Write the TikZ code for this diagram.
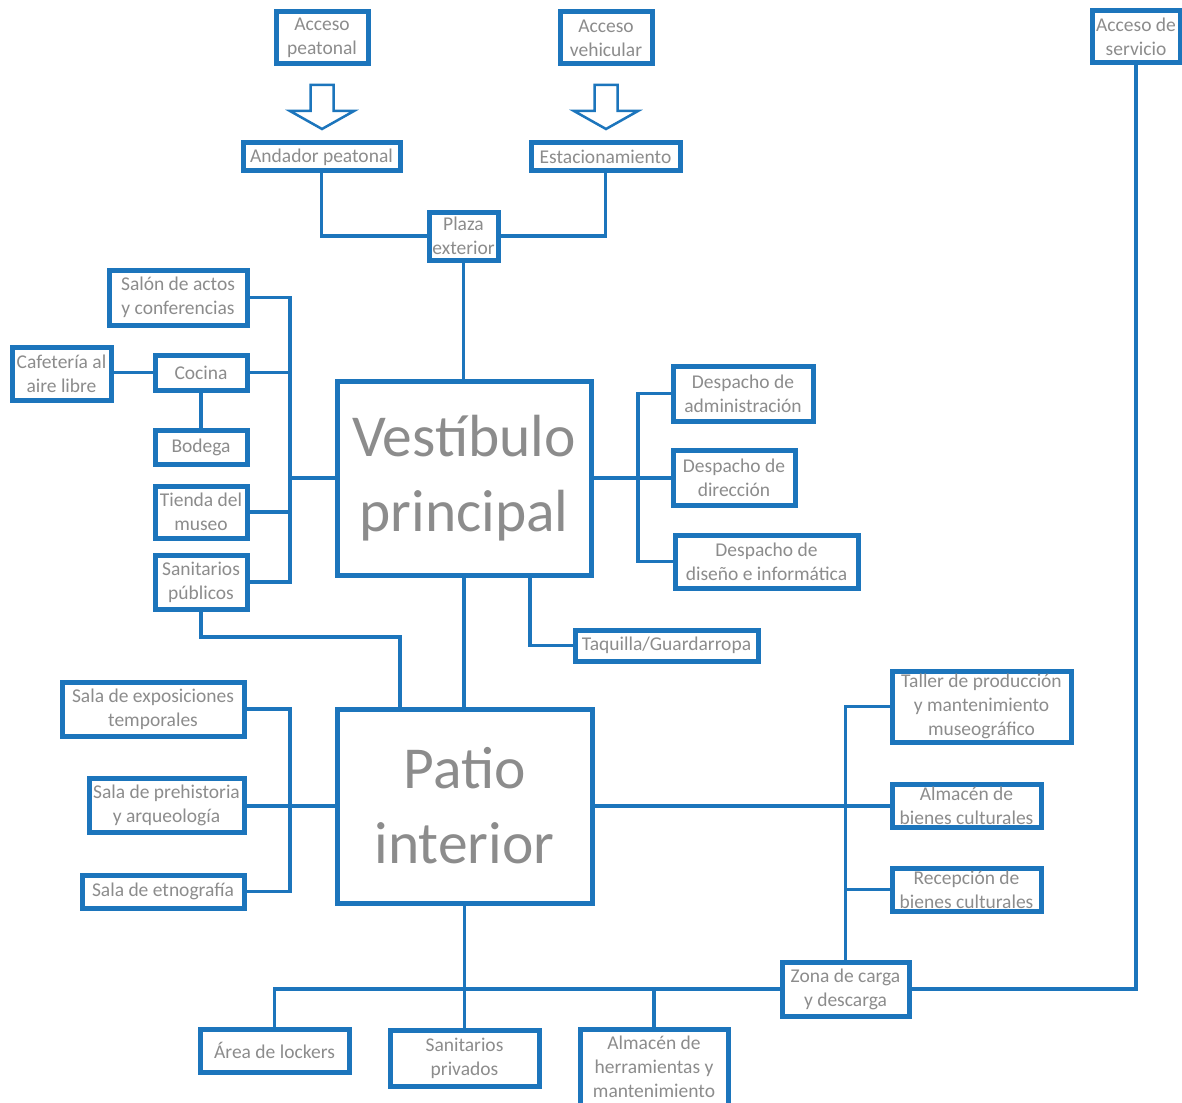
\documentclass[tikz,border=0pt]{standalone}
\usepackage{fontspec}
\setmainfont{Carlito}
\definecolor{myblue}{RGB}{28,117,188}
\definecolor{txtgray}{RGB}{140,140,140}
\begin{document}
\begin{tikzpicture}[x=1pt,y=-1pt,
  bx/.style={draw=myblue, line width=5pt, text=txtgray, align=center, inner sep=0pt, outer sep=0pt,
    fill=white, font=\fontsize{19.5}{24}\selectfont},
  big/.style={bx, font=\fontsize{59.5}{75}\selectfont},
  conn/.style={draw=myblue, line width=3.5pt},
  blockarrow/.style={draw=myblue, line width=2.5pt, line join=miter, fill=white}]
\useasboundingbox (0,0) rectangle (1182,1102);
\fill[white] (0,0) rectangle (1182,1102);

% coordinates for buses
\coordinate (L1) at (290,0);
\coordinate (R1) at (638,0);
\coordinate (T1) at (530,0);
\coordinate (SP) at (400,637);

% nodes
\node[bx, minimum width=92pt, minimum height=52pt] (ap) at (322,38) {Acceso\\peatonal};
\node[bx, minimum width=92pt, minimum height=52pt] (av) at (606,38) {Acceso\\vehicular};
\node[bx, minimum width=88pt, minimum height=52pt] (as) at (1136,37) {Acceso de\\servicio};
\node[bx, minimum width=157pt, minimum height=28pt] (and) at (321.5,157) {Andador peatonal};
\node[bx, minimum width=149pt, minimum height=28pt] (est) at (605.5,157) {Estacionamiento};
\node[bx, minimum width=69pt, minimum height=48pt] (plaza) at (463.5,236) {Plaza\\exterior};
\node[big, minimum width=254pt, minimum height=194pt] (vest) at (464,478) {Vestíbulo\\principal};
\node[bx, minimum width=138pt, minimum height=55pt] (salon) at (178,297.5) {Salón de actos\\y conferencias};
\node[bx, minimum width=99pt, minimum height=53pt] (cafe) at (61.5,373.5) {Cafetería al\\aire libre};
\node[bx, minimum width=92pt, minimum height=35pt] (cocina) at (201,372.5) {Cocina};
\node[bx, minimum width=92pt, minimum height=34pt] (bodega) at (201,447) {Bodega};
\node[bx, minimum width=92pt, minimum height=52pt] (tienda) at (201,512) {Tienda del\\museo};
\node[bx, minimum width=92pt, minimum height=54pt] (sanpub) at (201,582) {Sanitarios\\públicos};
\node[bx, minimum width=140pt, minimum height=55pt] (dadm) at (743,393.5) {Despacho de\\administración};
\node[bx, minimum width=122pt, minimum height=55pt] (ddir) at (734,477.5) {Despacho de\\dirección};
\node[bx, minimum width=183pt, minimum height=53pt] (ddis) at (766.5,561.5) {Despacho de\\diseño e informática};
\node[bx, minimum width=183pt, minimum height=31pt] (taq) at (666.5,645.5) {Taquilla/Guardarropa};
\node[big, minimum width=255pt, minimum height=194pt] (patio) at (464.5,806) {Patio\\interior};
\node[bx, minimum width=182pt, minimum height=54pt] (sexp) at (153,709) {Sala de exposiciones\\temporales};
\node[bx, minimum width=155pt, minimum height=54pt] (spre) at (166.5,805) {Sala de prehistoria\\y arqueología};
\node[bx, minimum width=162pt, minimum height=33pt] (setn) at (163,891.5) {Sala de etnografía};
\node[bx, minimum width=179pt, minimum height=71pt] (taller) at (981.5,706.5) {Taller de producción\\y mantenimiento\\museográfico};
\node[bx, minimum width=149pt, minimum height=43pt] (abc) at (966.5,805.5) {Almacén de\\bienes culturales};
\node[bx, minimum width=149pt, minimum height=43pt] (rbc) at (966.5,889.5) {Recepción de\\bienes culturales};
\node[bx, minimum width=127pt, minimum height=54pt] (zona) at (845.5,989) {Zona de carga\\y descarga};
\node[bx, minimum width=149pt, minimum height=43pt] (lock) at (274.5,1050.5) {Área de lockers};
\node[bx, minimum width=149pt, minimum height=56pt] (sanpriv) at (464.5,1058) {Sanitarios\\privados};
\node[bx, minimum width=148pt, minimum height=76pt] (almh) at (654,1067) {Almacén de\\herramientas y\\mantenimiento};

% block arrows
\draw[blockarrow] (310.5,85) -- (333.5,85) -- (333.5,111) -- (354,111) -- (322,129) -- (290,111) -- (310.5,111) -- cycle;
\draw[blockarrow] (594.5,85) -- (617.5,85) -- (617.5,111) -- (638,111) -- (606,129) -- (574,111) -- (594.5,111) -- cycle;

% connectors
\draw[conn] (and.south) |- (plaza.west);
\draw[conn] (est.south) |- (plaza.east);
\draw[conn] (plaza.south) -- (plaza.south |- vest.north);
\draw[conn] (salon.east) -| (L1 |- sanpub.east) -- (sanpub.east);
\draw[conn] (cocina.east) -- (cocina.east -| L1);
\draw[conn] (tienda.east) -- (tienda.east -| L1);
\draw[conn] (vest.west) -- (vest.west -| L1);
\draw[conn] (cafe.east |- cocina.west) -- (cocina.west);
\draw[conn] (cocina.south) -- (bodega.north);
\draw[conn] (sanpub.south) |- (SP) -- (SP |- patio.north);
\draw[conn] (vest.south) -- (vest.south |- patio.north);
\draw[conn] (T1 |- vest.south) |- (taq.west);
\draw[conn] (dadm.west) -| (R1 |- ddis.west) -- (ddis.west);
\draw[conn] (vest.east) -- (vest.east -| ddir.west);
\draw[conn] (sexp.east) -| (L1 |- setn.east) -- (setn.east);
\draw[conn] (patio.west) -- (patio.west -| spre.east);
\draw[conn] (taller.west) -| (zona.north);
\draw[conn] (patio.east) -- (patio.east -| abc.west);
\draw[conn] (rbc.west) -- (rbc.west -| zona.north);
\draw[conn] (zona.east) -| (as.south);
\draw[conn] (lock.north) |- (zona.west);
\draw[conn] (patio.south) -- (sanpriv.north);
\draw[conn] (almh.north) -- (almh.north |- zona.west);
\end{tikzpicture}
\end{document}
